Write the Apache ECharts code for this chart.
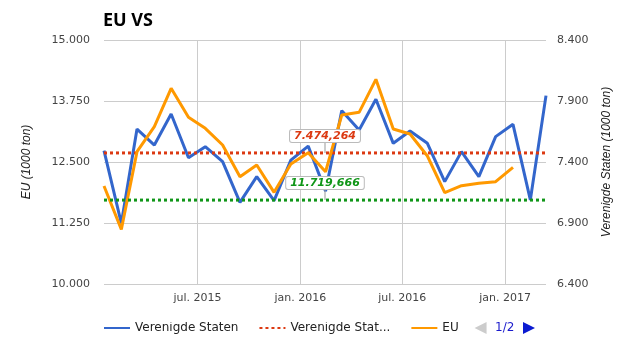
<!DOCTYPE html>
<html><head><meta charset="utf-8">
<script src="https://cdn.jsdelivr.net/npm/echarts@6/dist/echarts.min.js"></script>
<style>html,body{margin:0;padding:0;background:#fff}#c{width:625px;height:355px}</style>
</head><body><div id="c"></div>
<script>
const titleText = 'EU VS';
const months = ['2015-01','2015-02','2015-03','2015-04','2015-05','2015-06','2015-07','2015-08','2015-09','2015-10','2015-11','2015-12',
  '2016-01','2016-02','2016-03','2016-04','2016-05','2016-06','2016-07','2016-08','2016-09','2016-10','2016-11','2016-12',
  '2017-01','2017-02','2017-03'];
const vsValues = [7493,6897,7670,7539,7793,7435,7526,7403,7069,7280,7083,7416,
  7530,7160,7821,7662,7914,7553,7654,7553,7239,7485,7280,7608,
  7709,7089,7944];
const euValues = [12008,11120,12711,13223,14010,13415,13190,12848,12199,12438,11878,12459,
  12690,12300,13463,13518,14194,13176,13074,12623,11871,12014,12063,12096,
  12391];
const vsAverage = [7474.264];
const euAverage = [11719.666];
const seriesNames = ['Verenigde Staten','Verenigde Staten gemiddelde','EU','EU gemiddelde'];
const xRange = ['2015-01','2017-03'];
const leftAxisTicks = [10000, 15000, 1250];   // min, max, step
const rightAxisTicks = [6400, 8400, 500];
const monthNames = ['jan.','feb.','mrt.','apr.','mei','jun.','jul.','aug.','sep.','okt.','nov.','dec.'];

function toTime(m){ return Date.UTC(+m.slice(0,4), +m.slice(5,7)-1, 15); }
function thousands(n){ return String(Math.round(n)).replace(/\B(?=(\d{3})+(?!\d))/g,'.'); }
function fmtAvg(v){ const p = v.toFixed(3).split('.'); return thousands(+p[0]) + ',' + p[1]; }

const tMin = toTime(xRange[0]), tMax = toTime(xRange[1]), tMid = (tMin + tMax) / 2;
const vsData = vsValues.map((v,i)=>[toTime(months[i]), v]);
const euData = euValues.map((v,i)=>[toTime(months[i]), v]);
const DAY = 24*3600*1000;

function avgLabel(color){
  return {show:true, position:'top', distance:0, formatter:p=>fmtAvg(p.value), color:color,
    fontFamily:'DejaVu Sans', fontWeight:'bold', fontStyle:'italic', fontSize:11,
    backgroundColor:'#fff', borderColor:'#bbb', borderWidth:1, borderRadius:2, padding:[1,4,0,4]};
}

const chart = echarts.init(document.getElementById('c'), null, {renderer:'canvas'});
chart.setOption({
  animation:false,
  useUTC:true,
  title:{text:titleText, left:98, top:7, textStyle:{fontFamily:'Open Sans', fontWeight:'bold', fontSize:18, color:'#000'}},
  grid:{left:104, right:79, top:40, bottom:71, containLabel:false},
  legend:{type:'scroll', left:103, top:322, width:432, padding:0, itemWidth:26, itemHeight:14, itemGap:20,
    itemStyle:{opacity:0},
    textStyle:{fontFamily:'DejaVu Sans', fontSize:12, color:'#222'},
    pageIconColor:'#0b1bd1', pageIconInactiveColor:'#cccccc', pageIconSize:12,
    pageButtonItemGap:2, pageButtonGap:8,
    pageIcons:{horizontal:['M12,0L0,6L12,12z','M0,0L12,6L0,12z']},
    pageTextStyle:{color:'#1a1acc', fontFamily:'DejaVu Sans', fontSize:12},
    data:[seriesNames[0], {name:seriesNames[1], textStyle:{fontFamily:'DejaVu Sans', fontSize:12, color:'#222', width:102, overflow:'truncate', ellipsis:'...'}}, seriesNames[2], seriesNames[3]]},
  xAxis:{type:'time', min:tMin, max:tMax, splitNumber:5, minInterval:182*DAY, maxInterval:185*DAY,
    axisLine:{show:false}, axisTick:{show:false},
    splitLine:{show:true, showMinLine:false, showMaxLine:false, lineStyle:{color:'#ccc', width:1}},
    axisLabel:{margin:9, color:'#444', fontFamily:'DejaVu Sans', fontSize:11,
      formatter:function(v){ const d=new Date(v); return monthNames[d.getUTCMonth()]+' '+d.getUTCFullYear(); }}},
  yAxis:[
    {type:'value', min:leftAxisTicks[0], max:leftAxisTicks[1], interval:leftAxisTicks[2],
      name:'EU (1000 ton)', nameLocation:'middle', nameRotate:90, nameGap:71,
      nameTextStyle:{fontFamily:'Liberation Sans', fontStyle:'italic', fontSize:12, color:'#222'},
      axisLine:{show:false}, axisTick:{show:false},
      axisLabel:{margin:14, color:'#444', fontFamily:'DejaVu Sans', fontSize:11, formatter:v=>thousands(v)},
      splitLine:{show:true, lineStyle:{color:'#ccc', width:1}}},
    {type:'value', min:rightAxisTicks[0], max:rightAxisTicks[1], interval:rightAxisTicks[2], position:'right',
      name:'Verenigde Staten (1000 ton)', nameLocation:'middle', nameRotate:90, nameGap:55,
      nameTextStyle:{fontFamily:'Liberation Sans', fontStyle:'italic', fontSize:12, color:'#222'},
      axisLine:{show:false}, axisTick:{show:false},
      axisLabel:{margin:11, color:'#444', fontFamily:'DejaVu Sans', fontSize:11, formatter:v=>thousands(v)},
      splitLine:{show:false}}
  ],
  series:[
    {name:seriesNames[0], type:'line', yAxisIndex:1, data:vsData, symbol:'none', showSymbol:false,
      lineStyle:{color:'#3366cc', width:3}, itemStyle:{color:'#3366cc'}},
    {name:seriesNames[1], type:'line', yAxisIndex:1, data:[[tMin, vsAverage[0]],[tMax, vsAverage[0]]], symbol:'none', showSymbol:false,
      lineStyle:{color:'#dc3912', width:3, type:[3,3]}, itemStyle:{color:'#dc3912'},
      markPoint:{silent:true, symbol:'rect', symbolSize:[1,11], symbolOffset:[0,-5.5], itemStyle:{color:'#999'},
        label:avgLabel('#dc3912'), data:[{coord:[tMid, vsAverage[0]], value:vsAverage[0]}]}},
    {name:seriesNames[2], type:'line', yAxisIndex:0, data:euData, symbol:'none', showSymbol:false,
      lineStyle:{color:'#ff9900', width:3}, itemStyle:{color:'#ff9900'}},
    {name:seriesNames[3], type:'line', yAxisIndex:0, data:[[tMin, euAverage[0]],[tMax, euAverage[0]]], symbol:'none', showSymbol:false,
      lineStyle:{color:'#109618', width:3, type:[3,3]}, itemStyle:{color:'#109618'},
      markPoint:{silent:true, symbol:'rect', symbolSize:[1,11], symbolOffset:[0,-5.5], itemStyle:{color:'#999'},
        label:avgLabel('#109618'), data:[{coord:[tMid, euAverage[0]], value:euAverage[0]}]}}
  ]
});
</script></body></html>
